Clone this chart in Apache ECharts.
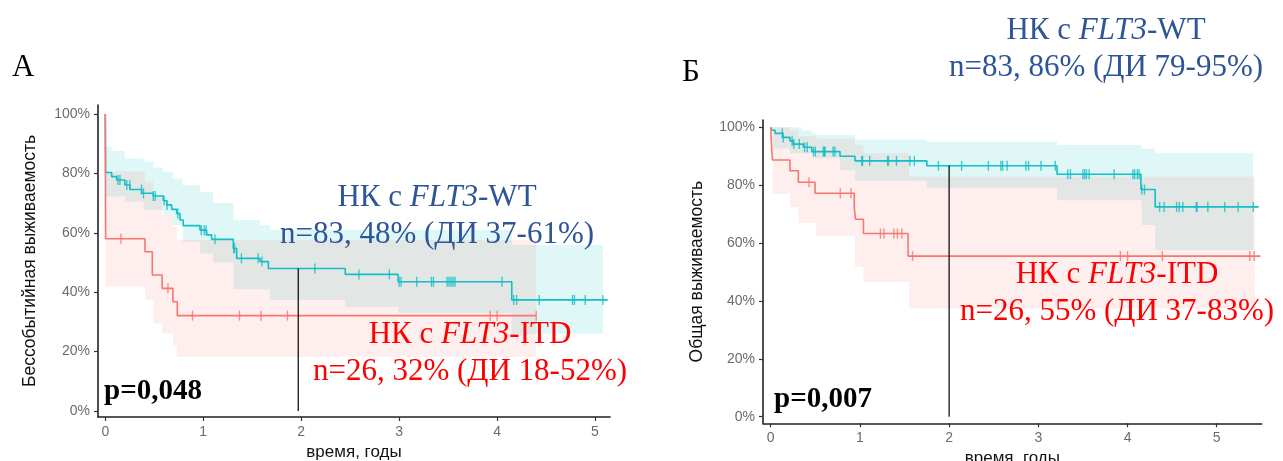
<!DOCTYPE html>
<html><head><meta charset="utf-8">
<script src="https://cdn.jsdelivr.net/npm/echarts@6/dist/echarts.min.js"></script>
<style>html,body{margin:0;padding:0;background:#fff}#c{width:1283px;height:461px}</style>
</head><body><div id="c"></div>
<script>
// ---------- Panel A (event-free survival) ----------
const aWtTime = [0, 0.003, 0.065, 0.116, 0.2, 0.252, 0.371, 0.49, 0.592, 0.627, 0.678, 0.729, 0.763, 0.796, 0.967, 1.035, 1.086, 1.307, 1.341, 1.58, 1.665, 2.45, 2.99, 4.15, 5.13];
const aWtSurv = [100, 80.3, 78.9, 77.8, 76.1, 74.6, 73.3, 72.4, 70.8, 69.4, 67.9, 66.5, 64.3, 62.4, 60.9, 59.3, 57.8, 54.8, 51.4, 50.3, 48.0, 46.0, 43.5, 37.4, 37.4];
const aWtCensor = [0.13, 0.15, 0.22, 0.25, 0.37, 0.39, 0.49, 0.51, 0.6, 0.63, 0.74, 0.98, 1.01, 1.03, 1.12, 1.31, 1.32, 1.39, 1.56, 1.6, 2.14, 2.59, 2.9, 3.0, 3.02, 3.18, 3.33, 3.35, 3.49, 3.51, 3.53, 3.55, 3.57, 4.05, 4.17, 4.2, 4.43, 4.77, 4.79, 4.9, 5.08];
const aWtBandTime = [0, 0.003, 0.065, 0.2, 0.39, 0.49, 0.59, 0.69, 0.79, 0.97, 1.1, 1.31, 1.58, 1.68, 2.45, 2.99, 4.15, 5.08];
const aWtBandHi = [100, 89, 87.5, 85, 84, 82, 80.6, 78.3, 76, 73.8, 70, 64.3, 62.6, 61, 61, 61, 55.9, 55.9];
const aWtBandLo = [100, 72.2, 72.2, 70.5, 67.7, 67.7, 66, 62.6, 57, 53, 50, 41, 41, 37.4, 35, 33, 26, 26];

const aItdTime = [0, 0.003, 0.405, 0.48, 0.58, 0.69, 0.735, 4.4];
const aItdSurv = [100, 58.0, 53.6, 45.8, 41.3, 36.8, 32.1, 32.1];
const aItdCensor = [0.16, 0.64, 0.89, 1.37, 1.59, 1.86, 3.93, 4.0, 4.4];
const aItdBandTime = [0, 0.003, 0.405, 0.49, 0.58, 0.69, 0.73, 4.4];
const aItdBandHi = [100, 80.6, 77.2, 72, 66, 62, 57.6, 57.6];
const aItdBandLo = [100, 41.9, 37.4, 29.5, 26.2, 22.2, 18.3, 18.3];
const aMarkTime = 1.97;

// ---------- Panel B (overall survival) ----------
const bWtTime = [0, 0.015, 0.05, 0.134, 0.216, 0.253, 0.366, 0.46, 0.777, 0.945, 1.75, 3.21, 4.15, 4.31, 5.47];
const bWtSurv = [100, 99, 97.9, 96.5, 95.3, 94.2, 93.1, 91.6, 90.0, 88.4, 86.7, 83.8, 78.5, 72.5, 72.5];
const bWtCensor = [0.13, 0.14, 0.24, 0.26, 0.32, 0.38, 0.41, 0.48, 0.5, 0.59, 0.6, 0.61, 0.7, 0.72, 1.02, 1.03, 1.11, 1.31, 1.32, 1.41, 1.56, 1.61, 1.88, 2.14, 2.44, 2.58, 2.6, 2.65, 2.86, 2.89, 3.03, 3.19, 3.33, 3.36, 3.5, 3.52, 3.54, 3.57, 3.85, 4.06, 4.08, 4.11, 4.13, 4.16, 4.19, 4.36, 4.41, 4.55, 4.58, 4.62, 4.77, 4.78, 4.9, 5.09, 5.24, 5.41];
const bWtBandTime = [0, 0.02, 0.216, 0.35, 0.46, 0.497, 0.777, 0.945, 1.75, 3.21, 4.16, 4.31, 5.41];
const bWtBandHi = [100, 100, 100, 99, 97.9, 97.3, 97.3, 95.8, 95, 93.9, 92.7, 91.2, 91.2];
const bWtBandLo = [100, 92.7, 91, 91, 91, 89.3, 85.2, 81.5, 78.9, 74.8, 66.2, 57.6, 57.6];

const bItdTime = [0, 0.01, 0.02, 0.216, 0.31, 0.497, 0.937, 0.95, 1.04, 1.54, 5.49];
const bItdSurv = [100, 92.7, 88.7, 85, 81, 77.2, 72.3, 68.2, 63.3, 55.5, 55.5];
const bItdCensor = [0.43, 0.78, 0.9, 1.23, 1.27, 1.38, 1.42, 1.47, 1.59, 3.92, 4.0, 4.39, 5.37, 5.42];
const bItdBandTime = [0, 0.02, 0.216, 0.31, 0.51, 0.945, 1.04, 1.55, 5.43];
const bItdBandHi = [100, 100, 99, 97, 96, 94, 91, 83, 83];
const bItdBandLo = [100, 77, 72.5, 67, 62.4, 51.8, 46.6, 37.4, 37.4];
const bMarkTime = 2.0;

const xTicks = [0, 1, 2, 3, 4, 5];
const yTicks = [0, 20, 40, 60, 80, 100];

// ---------- helpers ----------
const TEAL = '#13BEC5', RED = '#F8766D';
const TEAL_FILL = 'rgba(0,191,196,0.12)', RED_FILL = 'rgba(248,118,109,0.12)';
function zip(a, b) { return a.map((v, i) => [v, b[i]]); }
function stepAt(ts, ss, t) { let v = ss[0]; for (let i = 0; i < ts.length; i++) { if (ts[i] <= t) v = ss[i]; } return v; }
function band(times, lo, hi, color, gi) {
  return {
    type: 'custom', xAxisIndex: gi, yAxisIndex: gi, silent: true, z: 1,
    data: [[times[0], lo[0]]],
    renderItem: function (params, api) {
      const pts = [];
      const n = times.length;
      for (let i = 0; i < n - 1; i++) { pts.push(api.coord([times[i], hi[i]])); pts.push(api.coord([times[i + 1], hi[i]])); }
      for (let i = n - 2; i >= 0; i--) { pts.push(api.coord([times[i + 1], lo[i]])); pts.push(api.coord([times[i], lo[i]])); }
      return { type: 'polygon', shape: { points: pts }, style: { fill: color, stroke: null } };
    }
  };
}
function curve(ts, ss, color, gi) {
  return { type: 'line', xAxisIndex: gi, yAxisIndex: gi, step: 'end', symbol: 'none', z: 3, silent: true,
    lineStyle: { color: color, width: 1.6 }, data: zip(ts, ss) };
}
function censors(cs, ts, ss, color, gi) {
  return { type: 'scatter', xAxisIndex: gi, yAxisIndex: gi, symbol: 'rect', symbolSize: [1.4, 10], z: 4, silent: true,
    itemStyle: { color: color }, data: cs.map(t => [t, stepAt(ts, ss, t)]) };
}
function vline(t, ts, ss, gi) {
  return { type: 'line', xAxisIndex: gi, yAxisIndex: gi, symbol: 'none', z: 5, silent: true,
    lineStyle: { color: '#000', width: 1.2 }, data: [[t, stepAt(ts, ss, t)], [t, 0]] };
}
function xAx(gi, min, max, name) {
  return { type: 'value', gridIndex: gi, min: min, max: max, name: name, nameLocation: 'middle', nameGap: 23,
    nameTextStyle: { fontFamily: 'Liberation Sans', fontSize: 17, color: '#111' },
    axisLine: { show: true, onZero: false, lineStyle: { color: '#222', width: 1.6 } },
    axisTick: { show: true, length: 4, customValues: xTicks, lineStyle: { color: '#333', width: 1.2 } },
    axisLabel: { customValues: xTicks, color: '#6b6b6b', fontFamily: 'Liberation Sans', fontSize: 14, margin: 8 },
    splitLine: { show: false } };
}
function yAx(gi, min, max, name, gap) {
  return { type: 'value', gridIndex: gi, min: min, max: max, name: name, nameLocation: 'middle', nameRotate: 90, nameGap: gap,
    nameTextStyle: { fontFamily: 'Liberation Sans', fontSize: 17.5, color: '#111' },
    axisLine: { show: true, onZero: false, lineStyle: { color: '#222', width: 1.6 } },
    axisTick: { show: true, length: 4, customValues: yTicks, lineStyle: { color: '#333', width: 1.2 } },
    axisLabel: { customValues: yTicks, formatter: '{value}%', color: '#6b6b6b', fontFamily: 'Liberation Sans', fontSize: 14, margin: 8 },
    splitLine: { show: false } };
}
const SERIF = '"Liberation Serif", "Times New Roman", serif';
function label(lines, x, y0, dy, color) {
  return lines.map((ln, i) => ({
    type: 'text', x: x, y: y0 + i * dy, z: 10, silent: true,
    style: { text: ln, align: 'center', verticalAlign: 'middle', fill: color,
      rich: { a: { fontFamily: SERIF, fontSize: 31, fill: color }, i: { fontFamily: SERIF, fontSize: 31, fontStyle: 'italic', fill: color } } }
  }));
}
const BLUE = '#2E5597', LRED = '#FF0000';

const option = {
  backgroundColor: '#fff',
  animation: false,
  grid: [
    { left: 98, top: 105, width: 512, height: 312, containLabel: false, outerBoundsMode: 'none' },
    { left: 763, top: 120, width: 498.7, height: 303.3, containLabel: false, outerBoundsMode: 'none' }
  ],
  xAxis: [xAx(0, -0.0745, 5.153, 'время, годы'), xAx(1, -0.0863, 5.504, 'время, годы')],
  yAxis: [yAx(0, -2.02, 103.03, 'Бессобытийная выживаемость', 59), yAx(1, -2.28, 102.52, 'Общая выживаемость', 57)],
  series: [
    band(aWtBandTime, aWtBandLo, aWtBandHi, TEAL_FILL, 0),
    band(aItdBandTime, aItdBandLo, aItdBandHi, RED_FILL, 0),
    curve(aWtTime, aWtSurv, TEAL, 0),
    curve(aItdTime, aItdSurv, RED, 0),
    censors(aWtCensor, aWtTime, aWtSurv, TEAL, 0),
    censors(aItdCensor, aItdTime, aItdSurv, RED, 0),
    vline(aMarkTime, aWtTime, aWtSurv, 0),
    band(bWtBandTime, bWtBandLo, bWtBandHi, TEAL_FILL, 1),
    band(bItdBandTime, bItdBandLo, bItdBandHi, RED_FILL, 1),
    curve(bWtTime, bWtSurv, TEAL, 1),
    curve(bItdTime, bItdSurv, RED, 1),
    censors(bWtCensor, bWtTime, bWtSurv, TEAL, 1),
    censors(bItdCensor, bItdTime, bItdSurv, RED, 1),
    vline(bMarkTime, bWtTime, bWtSurv, 1)
  ],
  graphic: [
    { type: 'text', x: 12, y: 68, style: { text: 'А', fontFamily: SERIF, fontSize: 31, fill: '#000', verticalAlign: 'middle' } },
    { type: 'text', x: 682, y: 73, style: { text: 'Б', fontFamily: SERIF, fontSize: 31, fill: '#000', verticalAlign: 'middle' } },
    { type: 'text', x: 104, y: 392, z: 10, style: { text: 'p=0,048', fontFamily: SERIF, fontWeight: 'bold', fontSize: 29, fill: '#000', verticalAlign: 'middle' } },
    { type: 'text', x: 774, y: 400, z: 10, style: { text: 'p=0,007', fontFamily: SERIF, fontWeight: 'bold', fontSize: 29, fill: '#000', verticalAlign: 'middle' } },
    ...label(['{a|НК с }{i|FLT3}{a|-WT}', '{a|n=83, 48% (ДИ 37-61%)}'], 437, 197.5, 37, BLUE),
    ...label(['{a|НК с }{i|FLT3}{a|-ITD}', '{a|n=26, 32% (ДИ 18-52%)}'], 470, 334.5, 37, LRED),
    ...label(['{a|НК с }{i|FLT3}{a|-WT}', '{a|n=83, 86% (ДИ 79-95%)}'], 1106, 31, 37, BLUE),
    ...label(['{a|НК с }{i|FLT3}{a|-ITD}', '{a|n=26, 55% (ДИ 37-83%)}'], 1117, 274.5, 37, LRED)
  ]
};
const chart = echarts.init(document.getElementById('c'));
chart.setOption(option);
</script>
</body></html>
